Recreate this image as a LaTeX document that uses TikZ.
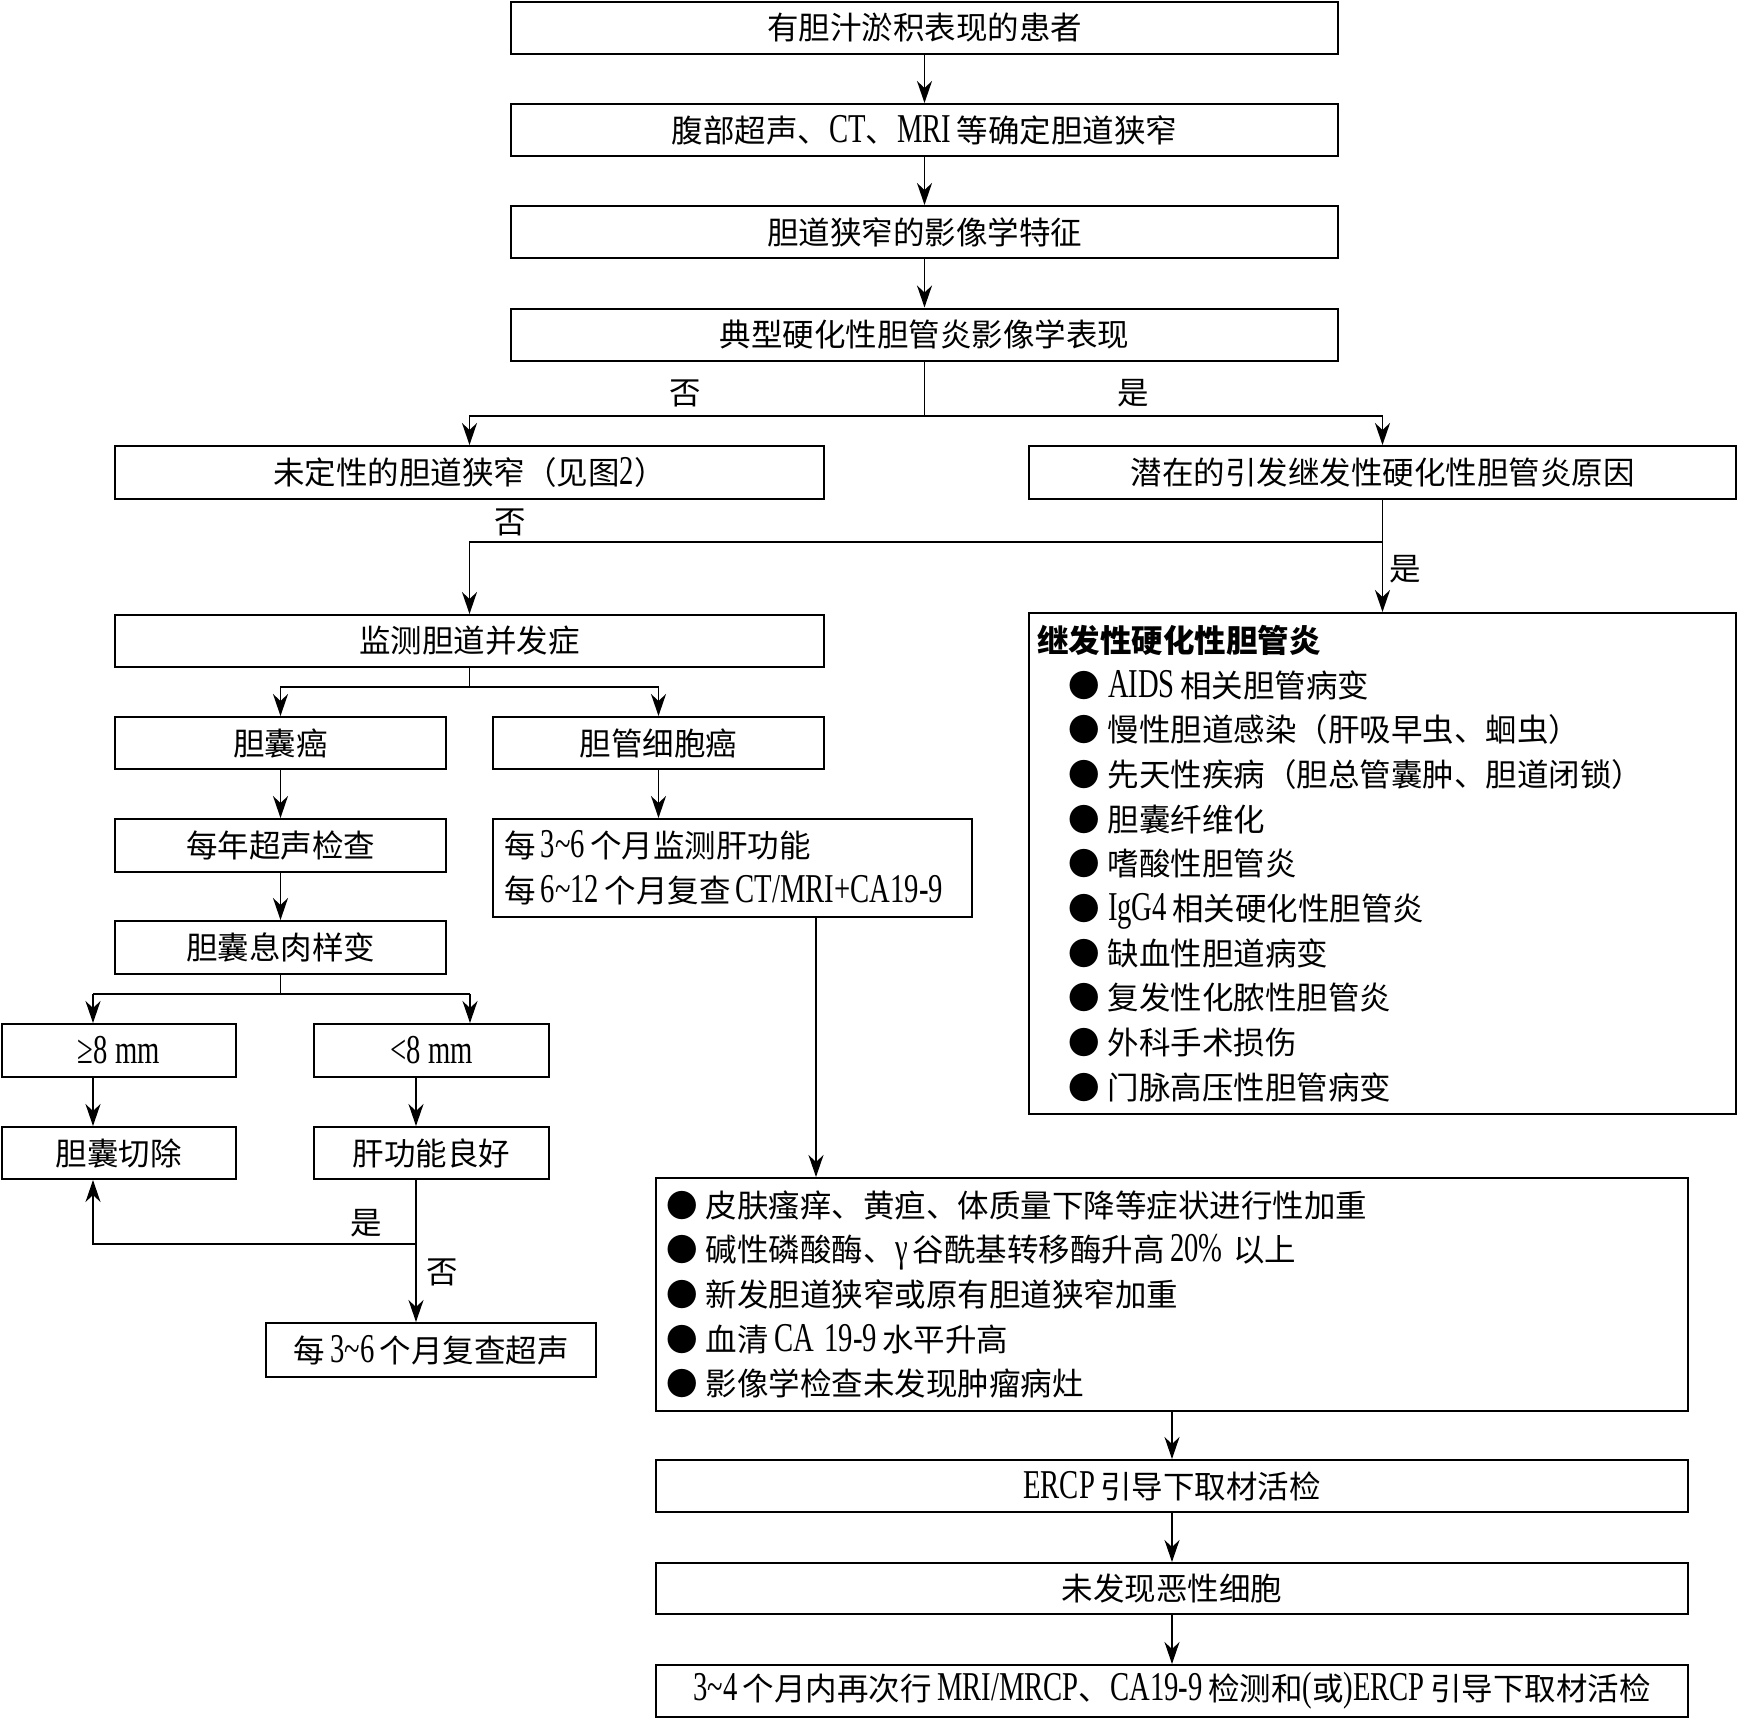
\documentclass[tikz,border=0pt]{standalone}
\usepackage{fontspec}
\setmainfont{Noto Sans CJK SC}
\newfontfamily\latf{Liberation Serif}[Scale=1.3,FakeStretch=0.7]
\newcommand{\latn}[1]{\mbox{\latf #1}}
\usetikzlibrary{arrows.meta,calc}
\begin{document}
\begin{tikzpicture}[x=1pt,y=-1pt,
  every node/.style={font=\fontsize{31.5}{44.7}\selectfont},
  box/.style={draw, line width=2pt, inner sep=0pt, minimum height=52pt},
  lst/.style={draw, line width=2pt, align=left, inner ysep=0pt},
  arr/.style={line width=1.7pt, -{Stealth[length=22pt,width=15pt,inset=7pt]}},
  ln/.style={line width=1.7pt},
  lbl/.style={inner sep=0pt}]
\useasboundingbox (0,0) rectangle (1738,1719);
% main column
\node[box,minimum width=827pt] (b1) at (924.5,28) {有胆汁淤积表现的患者};
\node[box,minimum width=827pt] (b2) at (924.5,130) {腹部超声、\latn{CT}、\latn{MRI}\,等确定胆道狭窄};
\node[box,minimum width=827pt] (b3) at (924.5,232) {胆道狭窄的影像学特征};
\node[box,minimum width=827pt] (b4) at (924.5,334.5) {典型硬化性胆管炎影像学表现};
\node[box,minimum width=709pt,minimum height=53pt] (lb) at (469.5,472.5) {未定性的胆道狭窄（见图\latn{2}）};
\node[box,minimum width=707pt,minimum height=53pt] (rb) at (1382.5,472.5) {潜在的引发继发性硬化性胆管炎原因};
% secondary box
\node[lst,minimum width=707pt,minimum height=501pt,text width=691pt,inner xsep=8pt] (sec) at (1382.5,863.5) {%
{\bfseries 继发性硬化性胆管炎}\\
\hspace*{31pt}●\hspace{8.5pt}\latn{AIDS}\,相关胆管病变\\
\hspace*{31pt}●\hspace{8.5pt}慢性胆道感染（肝吸早虫、蛔虫）\\
\hspace*{31pt}●\hspace{8.5pt}先天性疾病（胆总管囊肿、胆道闭锁）\\
\hspace*{31pt}●\hspace{8.5pt}胆囊纤维化\\
\hspace*{31pt}●\hspace{8.5pt}嗜酸性胆管炎\\
\hspace*{31pt}●\hspace{8.5pt}\latn{IgG4}\,相关硬化性胆管炎\\
\hspace*{31pt}●\hspace{8.5pt}缺血性胆道病变\\
\hspace*{31pt}●\hspace{8.5pt}复发性化脓性胆管炎\\
\hspace*{31pt}●\hspace{8.5pt}外科手术损伤\\
\hspace*{31pt}●\hspace{8.5pt}门脉高压性胆管病变};
% left branch
\node[box,minimum width=709pt] (mon) at (469.5,641) {监测胆道并发症};
\node[box,minimum width=331pt] (gbc) at (280.5,743) {胆囊癌};
\node[box,minimum width=331pt] (cca) at (658.5,743) {胆管细胞癌};
\node[box,minimum width=331pt,minimum height=53pt] (yr) at (280.5,845.5) {每年超声检查};
\node[lst,minimum width=479pt,minimum height=98pt,text width=457pt,inner xsep=11pt] (cl) at (732.5,868) {%
每\,\latn{3\textasciitilde 6}\,个月监测肝功能\\
每\,\latn{6\textasciitilde 12}\,个月复查\,\latn{CT/MRI+CA19-9}};
\node[box,minimum width=331pt,minimum height=53pt] (pol) at (280.5,947.5) {胆囊息肉样变};
\node[box,minimum width=234.5pt,minimum height=53pt] (ge8) at (118.75,1050.5) {\latn{≥8 mm}};
\node[box,minimum width=235pt,minimum height=53pt] (lt8) at (431.5,1050.5) {\latn{<8 mm}};
\node[box,minimum width=234.5pt] (ch) at (118.75,1153) {胆囊切除};
\node[box,minimum width=235pt] (lv) at (431.5,1153) {肝功能良好};
\node[box,minimum width=330pt,minimum height=54pt] (us) at (431,1350) {每\,\latn{3\textasciitilde 6}\,个月复查超声};
% lower right
\node[lst,minimum width=1032pt,minimum height=233pt,text width=1012pt,inner xsep=10pt] (sym) at (1172,1294.5) {%
●\hspace{8.5pt}皮肤瘙痒、黄疸、体质量下降等症状进行性加重\\
●\hspace{8.5pt}碱性磷酸酶、\latn{γ}\,谷酰基转移酶升高\,\latn{20\% }以上\\
●\hspace{8.5pt}新发胆道狭窄或原有胆道狭窄加重\\
●\hspace{8.5pt}血清\,\latn{CA 19-9}\,水平升高\\
●\hspace{8.5pt}影像学检查未发现肿瘤病灶};
\node[box,minimum width=1032pt] (ercp) at (1172,1486) {\latn{ERCP}\,引导下取材活检};
\node[box,minimum width=1032pt,minimum height=51pt] (nm) at (1172,1588.5) {未发现恶性细胞};
\node[box,minimum width=1032pt] (fin) at (1172,1691) {\latn{3\textasciitilde 4}\,个月内再次行\,\latn{MRI/MRCP}、\latn{CA19-9}\,检测和\latn{(}或\latn{)}\latn{ERCP}\,引导下取材活检};
% labels
\node[lbl] (n1) at (685,393) {否};
\node[lbl] (y1) at (1133,393) {是};
\node[lbl] (n2) at (510,522) {否};
\node[lbl] (y2) at (1405,569) {是};
\node[lbl] (y3) at (366,1223) {是};
\node[lbl] (n3) at (442,1272) {否};
% connectors
\draw[arr] (b1.south) -- (b2.north);
\draw[arr] (b2.south) -- (b3.north);
\draw[arr] (b3.south) -- (b4.north);
\coordinate (s1) at (924.5,416);
\draw[ln] (b4.south) -- (s1);
\draw[arr] (s1) -| (lb.north);
\draw[arr] (s1) -| (rb.north);
\coordinate (s2) at (1382.5,542);
\draw[arr] (rb.south) -- (sec.north);
\draw[arr] (s2) -| (mon.north);
\coordinate (s3) at (469.5,687);
\draw[ln] (mon.south) -- (s3);
\draw[arr] (s3) -| (gbc.north);
\draw[arr] (s3) -| (cca.north);
\draw[arr] (gbc.south) -- (yr.north);
\draw[arr] (yr.south) -- (pol.north);
\draw[arr] (cca.south) -- (cca.south |- cl.north);
\coordinate (s4) at (280.5,994);
\coordinate (p1) at (93,994);
\coordinate (p2) at (470,994);
\draw[ln] (pol.south) -- (s4);
\draw[ln] (p1) -- (p2);
\draw[arr] (p1) -- (p1 |- ge8.north);
\draw[arr] (p2) -- (p2 |- lt8.north);
\draw[arr] (p1 |- ge8.south) -- (p1 |- ch.north);
\coordinate (p3) at (416,1244);
\draw[arr] (p3 |- lt8.south) -- (p3 |- lv.north);
\draw[arr] (p3 |- lv.south) -- (p3 |- us.north);
\draw[arr] (p3) -| (p1 |- ch.south);
\coordinate (p4) at (816,0);
\draw[arr] (p4 |- cl.south) -- (p4 |- sym.north);
\draw[arr] (sym.south) -- (ercp.north);
\draw[arr] (ercp.south) -- (nm.north);
\draw[arr] (nm.south) -- (fin.north);
\end{tikzpicture}
\end{document}
